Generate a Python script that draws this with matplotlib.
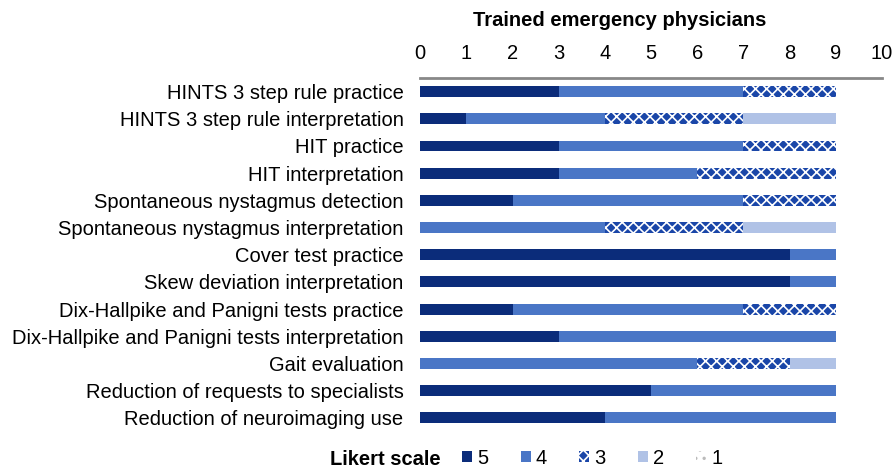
import matplotlib
matplotlib.use("Agg")
import matplotlib.pyplot as plt
import numpy as np

plt.rcParams["font.family"] = ["Liberation Sans", "DejaVu Sans"]
plt.rcParams["hatch.linewidth"] = 1.2

categories = [
    "HINTS 3 step rule practice",
    "HINTS 3 step rule interpretation",
    "HIT practice",
    "HIT interpretation",
    "Spontaneous nystagmus detection",
    "Spontaneous nystagmus interpretation",
    "Cover test practice",
    "Skew deviation interpretation",
    "Dix-Hallpike and Panigni tests practice",
    "Dix-Hallpike and Panigni tests interpretation",
    "Gait evaluation",
    "Reduction of requests to specialists",
    "Reduction of neuroimaging use",
]
likert5 = [3, 1, 3, 3, 2, 0, 8, 8, 2, 3, 0, 5, 4]
likert4 = [4, 3, 4, 3, 5, 4, 1, 1, 5, 6, 6, 4, 5]
likert3 = [2, 3, 2, 3, 2, 3, 0, 0, 2, 0, 2, 0, 0]
likert2 = [0, 2, 0, 0, 0, 2, 0, 0, 0, 0, 1, 0, 0]
likert1 = [0, 0, 0, 0, 0, 0, 0, 0, 0, 0, 0, 0, 0]

series = [
    ("5", likert5, dict(color="#0b2c7a")),
    ("4", likert4, dict(color="#4a76c6")),
    ("3", likert3, dict(color="#1a46a8", hatch="xxx", edgecolor="white", linewidth=0)),
    ("2", likert2, dict(color="#b0c2e6")),
    ("1", likert1, dict(color="white", hatch="..", edgecolor="#bbbbbb", linewidth=0)),
]

fs = 14.5

fig = plt.figure(figsize=(8.94, 4.70), dpi=100)
ax = fig.add_axes([0.47, 0.082, 0.5166, 0.752])

y = np.arange(len(categories))
left = np.zeros(len(categories))
handles = []
for name, vals, style in series:
    vals = np.array(vals, dtype=float)
    h = ax.barh(y, vals, left=left, height=0.4, label=name, **style)
    handles.append(h)
    left += vals

ax.set_xlim(0, 10)
ax.set_ylim(len(categories) - 0.5, -0.5)
ax.set_yticks(y)
ax.set_yticklabels(categories, fontsize=fs)
ax.set_xticks(range(0, 11))
ax.xaxis.tick_top()
ax.tick_params(axis="x", length=0, labelsize=fs, pad=11)
ax.tick_params(axis="y", length=0, pad=12)
for s in ["bottom", "left", "right"]:
    ax.spines[s].set_visible(False)
ax.spines["top"].set_color("#888888")
ax.spines["top"].set_linewidth(2)

fig.text(0.6935, 0.957, "Trained emergency physicians", ha="center", va="center",
         fontsize=fs, fontweight="bold")

fig.text(0.369, 0.022, "Likert scale", ha="left", va="center", fontsize=fs,
         fontweight="bold")
fig.legend(handles=handles, loc="center left", bbox_to_anchor=(0.517, 0.025),
           ncol=5, frameon=False, fontsize=fs, handlelength=0.5, handleheight=0.5,
           handletextpad=0.25, columnspacing=1.6, borderpad=0, borderaxespad=0)

fig.savefig("out.png", dpi=100)
